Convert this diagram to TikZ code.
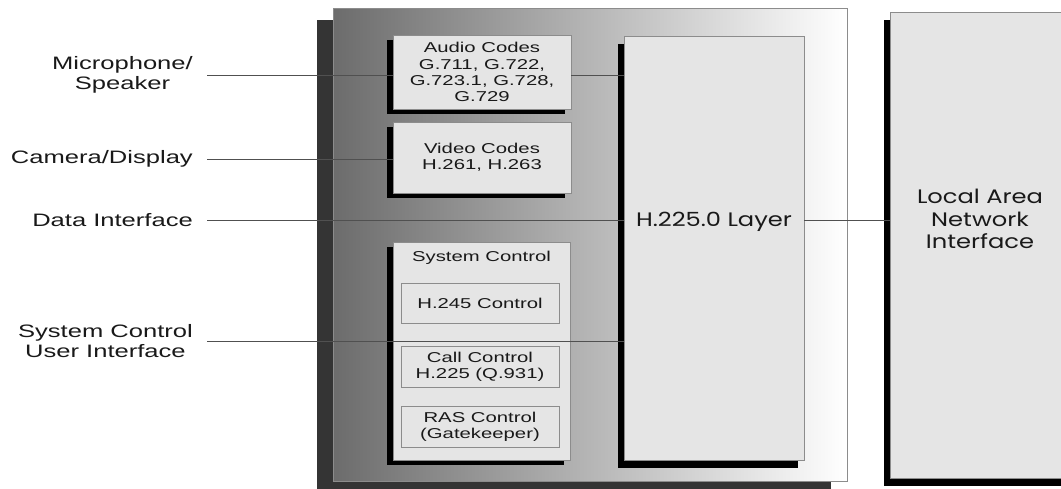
\documentclass[tikz,border=0pt]{standalone}
\usepackage{fontspec}
\usetikzlibrary{positioning, shadows}
\newfontfamily\arialw[FakeStretch=1.42]{Liberation Sans}
\newfontfamily\gothw[FakeStretch=1.24]{Poppins}
\definecolor{boxgray}{RGB}{229, 229, 229}
\definecolor{edgegray}{RGB}{140, 140, 140}
\definecolor{wiregray}{RGB}{80, 80, 80}
\definecolor{shadegray}{RGB}{108, 108, 108}
\definecolor{darkshadow}{RGB}{52, 52, 52}
\definecolor{inkgray}{RGB}{25, 25, 25}

\begin{document}
\begin{tikzpicture}[x=1pt, y=-1pt,
        mainbox/.style={draw=edgegray, line width=0.8pt, left color=shadegray, right color=white, minimum width=514pt, minimum height=473pt, inner sep=0pt,
          drop shadow={shadow xshift=-16pt, shadow yshift=-12pt, fill=darkshadow, opacity=1}},
        codec/.style={draw=edgegray, line width=0.6pt, fill=boxgray, minimum width=178pt, inner sep=0pt, align=center, text=inkgray,
          font=\arialw\fontsize{14.3}{16.2}\selectfont,
          drop shadow={shadow xshift=-6pt, shadow yshift=-5pt, fill=black, opacity=1}},
        ctrl/.style={draw=edgegray, line width=0.6pt, fill=boxgray, minimum width=158pt, minimum height=40pt, inner sep=0pt, align=center, text=inkgray,
          font=\arialw\fontsize{14.3}{16.2}\selectfont},
        ttl/.style={inner sep=0pt, text=inkgray, font=\arialw\fontsize{14.3}{16.2}\selectfont},
        tall/.style={draw=edgegray, line width=0.6pt, fill=boxgray, minimum width=180pt, inner sep=0pt,
          drop shadow={shadow xshift=-6pt, shadow yshift=-8pt, fill=black, opacity=1}},
        gtxt/.style={font=\gothw\fontsize{19.5}{22.5}\selectfont, align=center, text=inkgray},
        side/.style={font=\arialw\fontsize{18}{20.5}\selectfont, align=center, anchor=east, inner xsep=14pt, inner ysep=0pt, text=inkgray},
        wire/.style={wiregray, line width=0.6pt}
      ]
        \clip (0,0) rectangle (1061,488);
        \node[mainbox] (term) at (590,244.5) {};
        \node[codec, minimum height=74pt] (audio) at (482,72) {Audio Codes\\G.711, G.722,\\G.723.1, G.728,\\G.729};
        \node[codec, minimum height=71pt] (video) at (482,157.5) {Video Codes\\H.261, H.263};
        \node[codec, minimum width=177pt, minimum height=218pt] (sysc) at (481.5,351) {};
        \node[ttl, anchor=north] (systitle) at ([yshift=-9pt]sysc.north) {System Control};
        \node[ctrl] (h245) at (480,303) {H.245 Control};
        \node[ctrl, minimum height=41pt] (call) at (480,366.5) {Call Control\\H.225 (Q.931)};
        \node[ctrl, minimum height=41pt] (ras) at (480,426.5) {RAS Control\\(Gatekeeper)};
        \node[tall, minimum height=424pt] (h225) at (714,248) {};
        \node[gtxt] (h225txt) at ([yshift=26pt]h225.center) {H.225.0 Layer};
        \node[tall, minimum height=466pt] (lan) at (980,245) {};
        \node[gtxt] (lantxt) at ([yshift=26pt]lan.center) {Local Area\\Network\\Interface};
        \node[side] (mic) at (207,75) {Microphone/\\Speaker};
        \node[side] (cam) at (207,159) {Camera/Display};
        \node[side] (data) at (207,220) {Data Interface};
        \node[side] (ui) at (207,341) {System Control\\User Interface};
        \draw[wire] (mic.east) -- (mic.east -| audio.west);
        \draw[wire] (mic.east -| audio.east) -- (mic.east -| h225.west);
        \draw[wire] (cam.east) -- (cam.east -| video.west);
        \draw[wire] (data.east) -- (data.east -| h225.west);
        \draw[wire] (ui.east) -- (ui.east -| h225.west);
        \draw[wire] (data.east -| h225.east) -- (data.east -| lan.west);
      \end{tikzpicture}
\end{document}
